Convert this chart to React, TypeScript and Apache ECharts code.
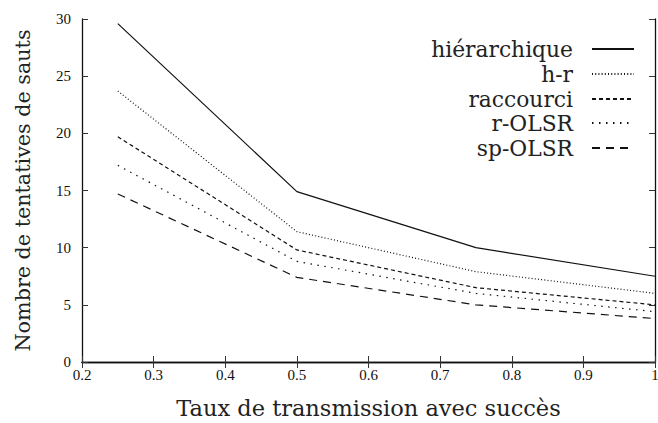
import React, { useEffect, useRef } from "react";
import * as echarts from "echarts";

const xValues = [0.25, 0.5, 0.75, 1];
const seriesNames = ["hiérarchique", "h-r", "raccourci", "r-OLSR", "sp-OLSR"];
const hierarchique = [29.6, 14.9, 10.0, 7.5];
const hr = [23.7, 11.4, 7.9, 6.0];
const raccourci = [19.7, 9.8, 6.5, 5.0];
const rOLSR = [17.2, 8.8, 6.0, 4.4];
const spOLSR = [14.7, 7.4, 5.0, 3.8];
const xTitle = "Taux de transmission avec succès";
const yTitle = "Nombre de tentatives de sauts";

const allValues = [hierarchique, hr, raccourci, rOLSR, spOLSR];
const dashes: any[] = ["solid", [1, 2.2], [4, 3], [1.5, 5.5], [8, 6]];
const legendTops = [33, 58, 83, 107, 132];
const FONT = "'Liberation Serif', 'DejaVu Serif', serif";
const TFONT = "'DejaVu Serif', serif";

export default function App() {
  const ref = useRef<HTMLDivElement>(null);
  useEffect(() => {
    if (!ref.current) return;
    const chart = echarts.init(ref.current, undefined, { renderer: "svg" });
    const axisLine = { show: true, lineStyle: { color: "#111", width: 1.3 } };
    const tick = { show: true, inside: true, length: 6, lineStyle: { color: "#333", width: 1 } };
    chart.setOption({
      animation: false,
      backgroundColor: "#fff",
      grid: { left: 82, right: 3, top: 19, bottom: 61, containLabel: false, outerBoundsMode: "none" },
      xAxis: [
        {
          type: "value",
          min: 0.2,
          max: 1,
          interval: 0.1,
          axisLine,
          axisTick: tick,
          splitLine: { show: false },
          axisLabel: {
            margin: 5,
            color: "#111",
            fontFamily: FONT,
            fontSize: 15,
            formatter: (v: number) => String(+v.toFixed(1)),
          },
          name: xTitle,
          nameLocation: "middle",
          nameGap: 34,
          nameTextStyle: { fontFamily: TFONT, fontSize: 22.5, color: "#222" },
        },
        {
          type: "value",
          position: "top",
          min: 0.2,
          max: 1,
          interval: 0.1,
          axisLine,
          axisTick: tick,
          splitLine: { show: false },
          axisLabel: { show: false },
        },
      ],
      yAxis: [
        {
          type: "value",
          min: 0,
          max: 30,
          interval: 5,
          axisLine,
          axisTick: tick,
          splitLine: { show: false },
          axisLabel: { margin: 11, color: "#111", fontFamily: FONT, fontSize: 15 },
          name: yTitle,
          nameLocation: "middle",
          nameGap: 49,
          nameTextStyle: { fontFamily: TFONT, fontSize: 20.7, color: "#222" },
        },
        {
          type: "value",
          position: "right",
          min: 0,
          max: 30,
          interval: 5,
          axisLine,
          axisTick: tick,
          splitLine: { show: false },
          axisLabel: { show: false },
        },
      ],
      legend: seriesNames.map((name, i) => ({
        data: [name],
        orient: "vertical",
        align: "right",
        right: 18,
        top: legendTops[i],
        itemWidth: 42,
        itemHeight: 12,
        itemGap: 0,
        selectedMode: false,
        itemStyle: { opacity: 0 },
        textStyle: { fontFamily: TFONT, fontSize: 21.8, color: "#222", padding: [0, 14, 0, 0] },
      })),
      series: seriesNames.map((name, i) => ({
        name,
        type: "line",
        symbol: "none",
        data: xValues.map((x, j) => [x, allValues[i][j]]),
        lineStyle: { color: "#111", width: 1.2, type: dashes[i] },
        itemStyle: { color: "#111" },
      })),
    });
    return () => chart.dispose();
  }, []);
  return <div ref={ref} style={{ width: 658, height: 423, position: "absolute", left: 0, top: 0 }} />;
}
